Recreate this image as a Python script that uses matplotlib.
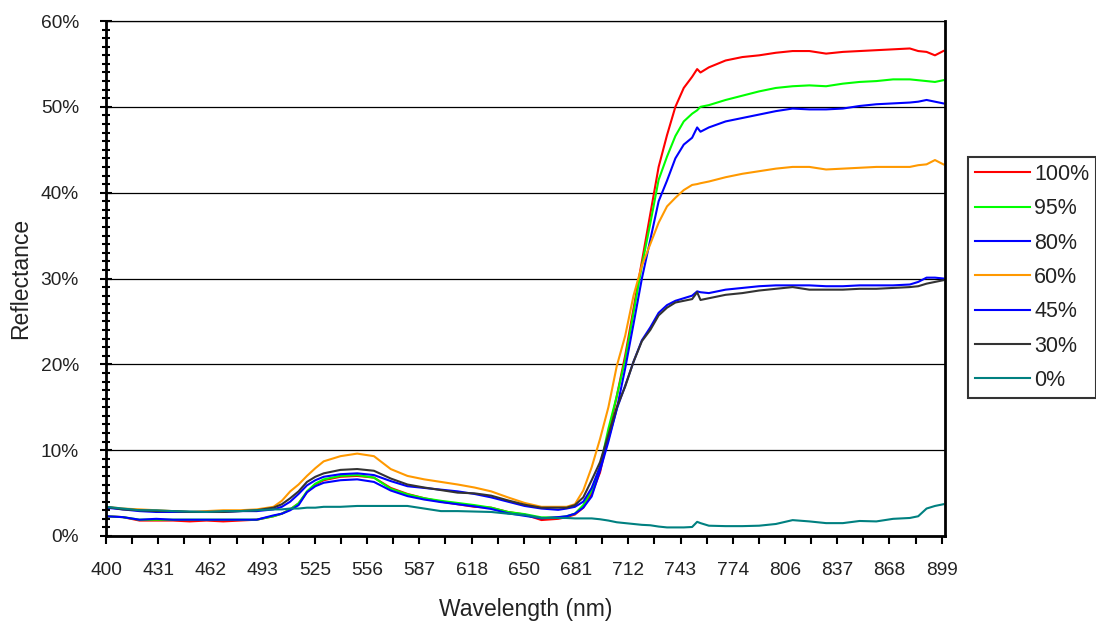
import matplotlib
matplotlib.use("Agg")
import matplotlib.pyplot as plt
from matplotlib.ticker import MultipleLocator, FixedLocator, PercentFormatter

plt.rcParams['font.family'] = ['Liberation Sans', 'DejaVu Sans']

wavelength = [400, 410, 420, 430, 440, 450, 460, 470, 480, 490, 500, 505, 510, 515, 520, 525, 530,
              540, 550, 560, 570, 580, 590, 600, 610, 620, 630, 640, 650, 660, 670, 675, 680, 685,
              690, 695, 700, 705, 710, 715, 720, 725, 730, 735, 740, 745, 750, 753, 755, 760, 770,
              780, 790, 800, 810, 820, 830, 840, 850, 860, 870, 880, 885, 890, 895, 900]

r100 = [2.3, 2.2, 1.8, 1.8, 1.8, 1.7, 1.8, 1.7, 1.8, 1.9, 2.3, 2.6, 3.1, 3.8, 5.1, 6.0, 6.5,
        6.9, 7.0, 6.8, 5.6, 4.9, 4.4, 4.0, 3.7, 3.4, 3.3, 2.8, 2.5, 1.86, 2.0, 2.2, 2.5, 3.3,
        4.9, 7.4, 11.8, 16.3, 21.0, 26.5, 32.0, 37.5, 43.0, 46.7, 50.0, 52.2, 53.5, 54.4, 54.0, 54.6, 55.4,
        55.8, 56.0, 56.3, 56.5, 56.5, 56.2, 56.4, 56.5, 56.6, 56.7, 56.8, 56.5, 56.4, 56.0, 56.5]

r95 = [2.3, 2.2, 1.9, 1.9, 1.9, 1.9, 1.9, 1.9, 1.9, 1.9, 2.3, 2.6, 3.1, 3.8, 5.2, 6.1, 6.6,
       7.0, 7.1, 6.8, 5.5, 4.85, 4.4, 4.1, 3.85, 3.6, 3.3, 2.8, 2.55, 2.17, 2.17, 2.3, 2.6, 3.6,
       5.3, 8.0, 12.5, 16.3, 20.5, 26.0, 31.5, 36.4, 41.5, 44.2, 46.6, 48.3, 49.2, 49.6, 50.0, 50.2, 50.8,
       51.3, 51.8, 52.2, 52.4, 52.5, 52.4, 52.7, 52.9, 53.0, 53.2, 53.2, 53.1, 53.0, 52.9, 53.1]

r80 = [2.3, 2.2, 1.9, 2.0, 1.9, 1.9, 1.9, 1.9, 1.9, 1.9, 2.4, 2.6, 3.0, 3.6, 5.1, 5.8, 6.2,
       6.5, 6.6, 6.3, 5.3, 4.65, 4.25, 3.95, 3.7, 3.45, 3.15, 2.65, 2.35, 2.05, 2.2, 2.3, 2.6, 3.3,
       4.6, 7.6, 11.0, 14.8, 19.5, 24.7, 30.0, 34.5, 39.0, 41.4, 44.0, 45.6, 46.4, 47.6, 47.1, 47.6, 48.3,
       48.7, 49.1, 49.5, 49.8, 49.7, 49.7, 49.8, 50.1, 50.3, 50.4, 50.5, 50.6, 50.8, 50.6, 50.4]

r60 = [3.4, 3.2, 3.1, 3.0, 2.9, 2.8, 2.9, 3.0, 3.0, 3.1, 3.4, 4.1, 5.2, 6.0, 7.0, 7.9, 8.7,
       9.3, 9.6, 9.3, 7.8, 7.0, 6.6, 6.3, 6.0, 5.65, 5.2, 4.5, 3.85, 3.4, 3.4, 3.4, 3.7, 5.3,
       8.0, 11.3, 15.0, 19.8, 23.3, 28.0, 31.5, 34.0, 36.5, 38.4, 39.4, 40.3, 40.9, 41.0, 41.1, 41.3, 41.8,
       42.2, 42.5, 42.8, 43.0, 43.0, 42.7, 42.8, 42.9, 43.0, 43.0, 43.0, 43.2, 43.3, 43.8, 43.3]

r45 = [3.3, 3.1, 2.9, 2.8, 2.8, 2.8, 2.8, 2.8, 2.9, 2.9, 3.1, 3.4, 4.0, 4.9, 5.9, 6.5, 6.9,
       7.2, 7.3, 7.1, 6.4, 5.8, 5.6, 5.4, 5.2, 4.9, 4.5, 4.0, 3.5, 3.2, 3.05, 3.2, 3.4, 4.0,
       5.6, 8.1, 11.3, 14.8, 17.5, 20.3, 22.8, 24.3, 26.0, 26.9, 27.4, 27.7, 28.0, 28.5, 28.4, 28.3, 28.7,
       28.9, 29.1, 29.2, 29.2, 29.2, 29.1, 29.1, 29.2, 29.2, 29.2, 29.3, 29.6, 30.1, 30.1, 30.0]

r30 = [3.4, 3.1, 3.0, 2.9, 2.9, 2.8, 2.8, 2.8, 2.9, 3.0, 3.3, 3.7, 4.4, 5.2, 6.3, 6.9, 7.3,
       7.7, 7.8, 7.6, 6.7, 6.0, 5.65, 5.35, 5.05, 4.97, 4.7, 4.15, 3.65, 3.3, 3.3, 3.3, 3.6, 4.5,
       6.5, 8.6, 11.8, 15.0, 17.4, 20.3, 22.7, 24.0, 25.7, 26.6, 27.2, 27.4, 27.6, 28.4, 27.5, 27.7, 28.1,
       28.3, 28.6, 28.8, 29.0, 28.7, 28.7, 28.7, 28.8, 28.8, 28.9, 29.0, 29.1, 29.4, 29.6, 29.8]

r0 = [3.4, 3.2, 3.0, 3.0, 2.9, 2.85, 2.8, 2.9, 2.9, 3.0, 3.1, 3.1, 3.2, 3.2, 3.3, 3.3, 3.4,
      3.4, 3.5, 3.5, 3.5, 3.5, 3.2, 2.9, 2.9, 2.85, 2.8, 2.6, 2.45, 2.1, 2.1, 2.1, 2.05, 2.05,
      2.05, 1.95, 1.8, 1.6, 1.5, 1.4, 1.3, 1.25, 1.1, 1.0, 1.0, 1.0, 1.05, 1.65, 1.5, 1.2, 1.15,
      1.15, 1.2, 1.4, 1.85, 1.7, 1.5, 1.5, 1.75, 1.7, 2.0, 2.1, 2.3, 3.2, 3.5, 3.7]

series_labels = ['100%', '95%', '80%', '60%', '45%', '30%', '0%']
series_values = [r100, r95, r80, r60, r45, r30, r0]
series_colors = ['#FF0000', '#00FF00', '#0000FF', '#FF9900', '#0000FF', '#333333', '#008080']

tick_labels = ['400', '431', '462', '493', '525', '556', '587', '618', '650', '681',
               '712', '743', '774', '806', '837', '868', '899']
tick_step = (899 - 400) / 16.0
tick_pos = [400 + i * tick_step for i in range(17)]
minor_pos = [400 + (i + 0.5) * tick_step for i in range(16)]

fig = plt.figure(figsize=(10.96, 6.21), dpi=100)
ax = fig.add_axes([106 / 1096, 85 / 621, (945 - 106) / 1096, (536 - 21) / 621])

for vals, lab, col in zip(series_values, series_labels, series_colors):
    ax.plot(wavelength, vals, color=col, lw=1.5, label=lab)

ax.set_xlim(400, 901)
ax.set_ylim(0, 60)
ax.yaxis.set_major_locator(MultipleLocator(10))
ax.yaxis.set_minor_locator(MultipleLocator(1))
ax.yaxis.set_major_formatter(PercentFormatter(decimals=0))
ax.xaxis.set_major_locator(FixedLocator(tick_pos))
ax.xaxis.set_minor_locator(FixedLocator(minor_pos))
ax.set_xticklabels(tick_labels)

ax.grid(axis='y', which='major', color='black', lw=0.9)
ax.set_axisbelow(True)

for s in ['left', 'bottom', 'right']:
    ax.spines[s].set_linewidth(2)
    ax.spines[s].set_color('black')
ax.spines['top'].set_linewidth(0.9)

txt = '#222222'
ax.tick_params(axis='y', which='major', direction='inout', length=9, width=1.5,
               labelsize=13.8, pad=15, labelcolor=txt)
ax.tick_params(axis='y', which='minor', direction='inout', length=6, width=1.5)
ax.tick_params(axis='x', which='both', direction='out', length=5.5, width=1.5,
               labelsize=13.8, pad=13.5, labelcolor=txt)

ax.set_xlabel('Wavelength (nm)', fontsize=16.5, labelpad=13.5, color=txt)
ax.set_ylabel('Reflectance', fontsize=16.5, labelpad=6.5, color=txt)

leg = fig.legend(loc='upper left', bbox_to_anchor=(968 / 1096, 1 - 157 / 621), borderaxespad=0,
                 fontsize=15.5, handlelength=2.56, labelspacing=0.62, handletextpad=0.19,
                 frameon=True, fancybox=False, edgecolor='black', borderpad=0.32)
leg.get_frame().set_linewidth(1.5)
for t in leg.get_texts():
    t.set_color(txt)

fig.savefig('out.png', dpi=100)
